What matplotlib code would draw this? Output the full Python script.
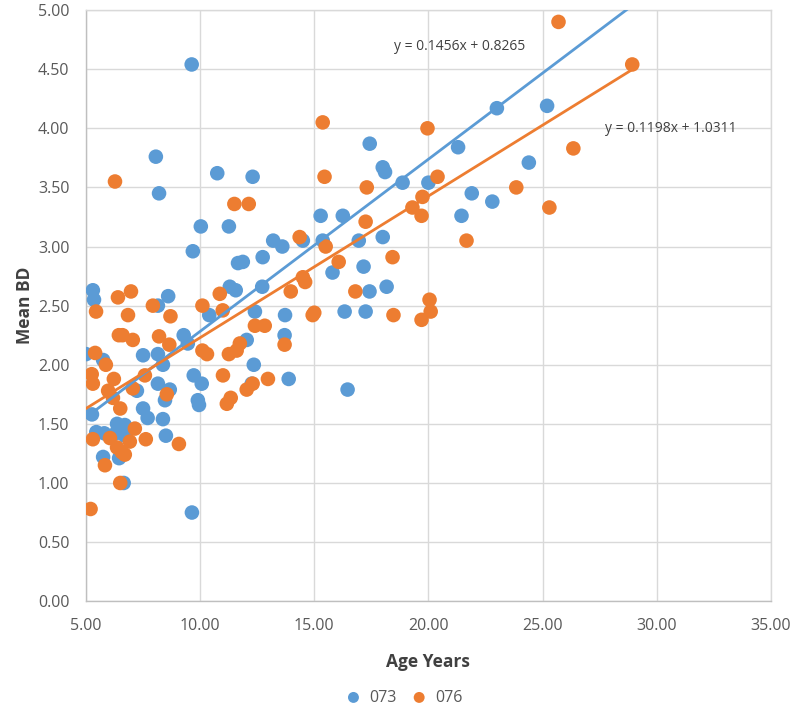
import numpy as np
import matplotlib
matplotlib.use("Agg")
import matplotlib.pyplot as plt

# series 073 (age years, mean BD)
age_073 = [5.0, 5.3, 5.35, 5.26, 5.45, 5.8, 6.3, 5.75, 6.45, 6.65, 6.36, 6.7, 6.7, 5.75,
           7.5, 7.23, 7.5, 7.7, 8.06, 8.2, 8.15, 8.6, 8.15, 8.37, 8.15, 8.67, 8.46, 8.37,
           8.5, 9.28, 9.46, 9.63, 9.68, 9.72, 10.07, 9.9, 9.95, 9.64, 10.03, 10.4, 10.75,
           11.26, 11.3, 11.56, 11.66, 11.87, 12.04, 12.3, 12.4, 12.35, 12.26, 12.72, 12.74,
           13.2, 13.6, 13.72, 13.7, 13.88, 14.5, 15.28, 15.37, 15.8, 16.25, 16.33, 16.46,
           16.95, 17.16, 17.25, 17.42, 17.43, 18.0, 18.1, 18.0, 18.17, 18.87, 20.0, 21.3,
           21.45, 21.9, 22.8, 23.0, 24.4, 25.2]
bd_073 = [2.09, 2.63, 2.55, 1.58, 1.43, 1.42, 1.42, 1.22, 1.21, 1.00, 1.50, 1.49, 1.40, 2.04,
          2.08, 1.78, 1.63, 1.55, 3.76, 3.45, 2.50, 2.58, 2.09, 2.00, 1.84, 1.79, 1.70, 1.54,
          1.40, 2.25, 2.18, 4.54, 2.96, 1.91, 1.84, 1.70, 1.66, 0.75, 3.17, 2.42, 3.62,
          3.17, 2.66, 2.63, 2.86, 2.87, 2.21, 3.59, 2.45, 2.00, 1.84, 2.66, 2.91,
          3.05, 3.00, 2.42, 2.25, 1.88, 3.05, 3.26, 3.05, 2.78, 3.26, 2.45, 1.79,
          3.05, 2.83, 2.45, 2.62, 3.87, 3.67, 3.63, 3.08, 2.66, 3.54, 3.54, 3.84,
          3.26, 3.45, 3.38, 4.17, 3.71, 4.19]

# series 076
age_076 = [5.2, 5.25, 5.3, 5.4, 5.44, 5.3, 5.83, 5.87, 5.97, 6.05, 6.18, 6.22, 6.27, 6.4,
           6.44, 6.6, 6.5, 6.36, 6.57, 6.7, 6.5, 6.84, 6.97, 6.92, 7.05, 7.05, 7.14, 7.58,
           7.62, 7.93, 8.2, 8.65, 8.7, 8.54, 9.07, 10.1, 10.1, 10.3, 10.86, 10.99, 11.0,
           11.17, 11.34, 11.26, 11.6, 11.74, 11.5, 12.13, 12.04, 12.3, 12.4, 12.83, 12.97,
           13.7, 13.97, 14.36, 14.5, 14.6, 14.93, 15.0, 15.37, 15.45, 15.5, 16.07, 16.8,
           17.25, 17.3, 18.43, 18.47, 19.3, 19.7, 19.74, 19.7, 20.05, 20.1, 19.96, 20.4,
           21.67, 23.85, 25.3, 25.7, 26.35, 28.93]
bd_076 = [0.78, 1.92, 1.84, 2.10, 2.45, 1.37, 1.15, 2.00, 1.78, 1.38, 1.72, 1.88, 3.55, 2.57,
          2.25, 2.25, 1.63, 1.30, 1.26, 1.24, 1.00, 2.42, 2.62, 1.35, 2.21, 1.80, 1.46, 1.91,
          1.37, 2.50, 2.24, 2.17, 2.41, 1.75, 1.33, 2.50, 2.12, 2.09, 2.60, 2.46, 1.91,
          1.67, 1.72, 2.09, 2.12, 2.18, 3.36, 3.36, 1.79, 1.84, 2.33, 2.33, 1.88,
          2.17, 2.62, 3.08, 2.74, 2.70, 2.42, 2.44, 4.05, 3.59, 3.00, 2.87, 2.62,
          3.21, 3.50, 2.91, 2.42, 3.33, 3.26, 3.42, 2.38, 2.55, 2.45, 4.00, 3.59,
          3.05, 3.50, 3.33, 4.90, 3.83, 4.54]

# linear trendlines as shown on the chart
slope_073, icpt_073 = 0.1456, 0.8265
slope_076, icpt_076 = 0.1198, 1.0311

blue = '#5B9BD5'
orange = '#ED7D31'
grid_c = '#D9D9D9'
text_c = '#595959'

plt.rcParams['font.family'] = ['Open Sans', 'DejaVu Sans']

fig = plt.figure(figsize=(8, 7.2), dpi=100)
ax = fig.add_axes([0.1075, 0.165, 0.856, 0.821])

ax.scatter(age_073, bd_073, s=110, color=blue, edgecolors='none', zorder=3, label='073')
ax.scatter(age_076, bd_076, s=110, color=orange, edgecolors='none', zorder=4, label='076')

xs = np.array([5.0, 28.95])
ax.plot(xs, slope_073 * xs + icpt_073, color=blue, lw=2.0, zorder=5)
ax.plot(xs, slope_076 * xs + icpt_076, color=orange, lw=2.0, zorder=5)

ax.text(21.36, 4.69, 'y = 0.1456x + 0.8265', ha='center', va='center',
        fontsize=10, color='#404040')
ax.text(30.6, 4.0, 'y = 0.1198x + 1.0311', ha='center', va='center',
        fontsize=10, color='#404040')

ax.set_xlim(5, 35)
ax.set_ylim(0, 5)
ax.set_xticks(np.arange(5, 35.1, 5))
ax.set_yticks(np.arange(0, 5.01, 0.5))
ax.set_xticklabels([f'{v:.2f}' for v in np.arange(5, 35.1, 5)])
ax.set_yticklabels([f'{v:.2f}' for v in np.arange(0, 5.01, 0.5)])
ax.tick_params(length=0, labelsize=11.5, colors=text_c)
ax.tick_params(axis='x', pad=12)
ax.tick_params(axis='y', pad=12)
ax.grid(True, color=grid_c, lw=1.0)
ax.set_axisbelow(True)
for sp in ax.spines.values():
    sp.set_color(grid_c)
    sp.set_linewidth(1.0)
ax.spines['left'].set_color('#BFBFBF')
ax.spines['bottom'].set_color('#BFBFBF')

ax.set_xlabel('Age Years', fontsize=12.5, fontweight='bold', color='#404040', labelpad=14)
ax.set_ylabel('Mean BD', fontsize=12.5, fontweight='bold', color='#404040', labelpad=3)

fig.legend(loc='lower center', bbox_to_anchor=(0.5, 0.0), ncol=2, frameon=False,
           fontsize=11.5, handletextpad=0.0, columnspacing=0.4, markerscale=0.75,
           labelcolor=text_c)

fig.savefig('out.png', dpi=100)
